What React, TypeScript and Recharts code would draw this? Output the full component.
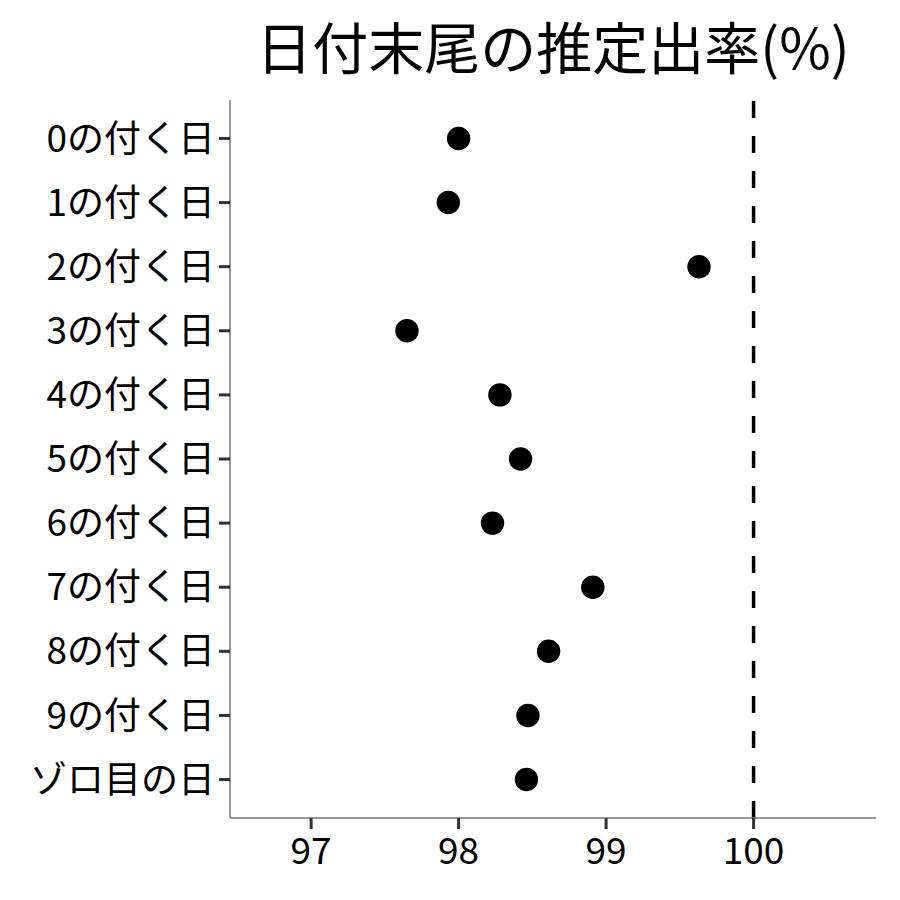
import { ReferenceLine, Scatter, ScatterChart, XAxis, YAxis } from "recharts";

const dayLabels = [
  "0の付く日",
  "1の付く日",
  "2の付く日",
  "3の付く日",
  "4の付く日",
  "5の付く日",
  "6の付く日",
  "7の付く日",
  "8の付く日",
  "9の付く日",
  "ゾロ目の日",
];
const rates = [98.0, 97.93, 99.63, 97.65, 98.28, 98.42, 98.23, 98.91, 98.61, 98.47, 98.46];
const xTicks = [97, 98, 99, 100];
const expected = 100;

const FONT = '"Noto Sans CJK JP", "Noto Sans", sans-serif';

const chartData = rates.map((rate, i) => ({ idx: i, rate, label: dayLabels[i] }));

const Dot = (props: any) => <circle cx={props.cx} cy={props.cy} r={11.7} fill="#000" />;

export default function App() {
  return (
    <div style={{ position: "absolute", left: 0, top: 0, width: 900, height: 900, background: "#fff", fontFamily: FONT }}>
      <div
        style={{
          position: "absolute",
          top: 8,
          left: 230,
          width: 646,
          textAlign: "center",
          fontSize: 56,
          lineHeight: "74px",
          color: "#000",
          whiteSpace: "nowrap",
        }}
      >
        日付末尾の推定出率(%)
      </div>
      <ScatterChart width={900} height={900} margin={{ top: 100, right: 24, bottom: 0, left: 0 }}>
        <XAxis
          type="number"
          dataKey="rate"
          domain={[96.45, 100.83]}
          ticks={xTicks}
          allowDataOverflow
          height={82}
          tickSize={11}
          tickMargin={9}
          axisLine={{ stroke: "#777", strokeWidth: 1.5 }}
          tickLine={{ stroke: "#333", strokeWidth: 3 }}
          tick={{ fontSize: 37, fill: "#000", fontFamily: FONT }}
        />
        <YAxis
          type="number"
          dataKey="idx"
          domain={[-0.6, 10.6]}
          reversed
          ticks={dayLabels.map((_, i) => i)}
          interval={0}
          tickFormatter={(v: number) => dayLabels[v] ?? ""}
          width={230}
          tickSize={11}
          tickMargin={4}
          axisLine={{ stroke: "#777", strokeWidth: 1.5 }}
          tickLine={{ stroke: "#333", strokeWidth: 3 }}
          tick={{ fontSize: 37, fill: "#000", fontFamily: FONT }}
        />
        <ReferenceLine x={expected} stroke="#000" strokeWidth={3.5} strokeDasharray="17 18" />
        <Scatter data={chartData} shape={Dot} isAnimationActive={false} />
      </ScatterChart>
    </div>
  );
}
